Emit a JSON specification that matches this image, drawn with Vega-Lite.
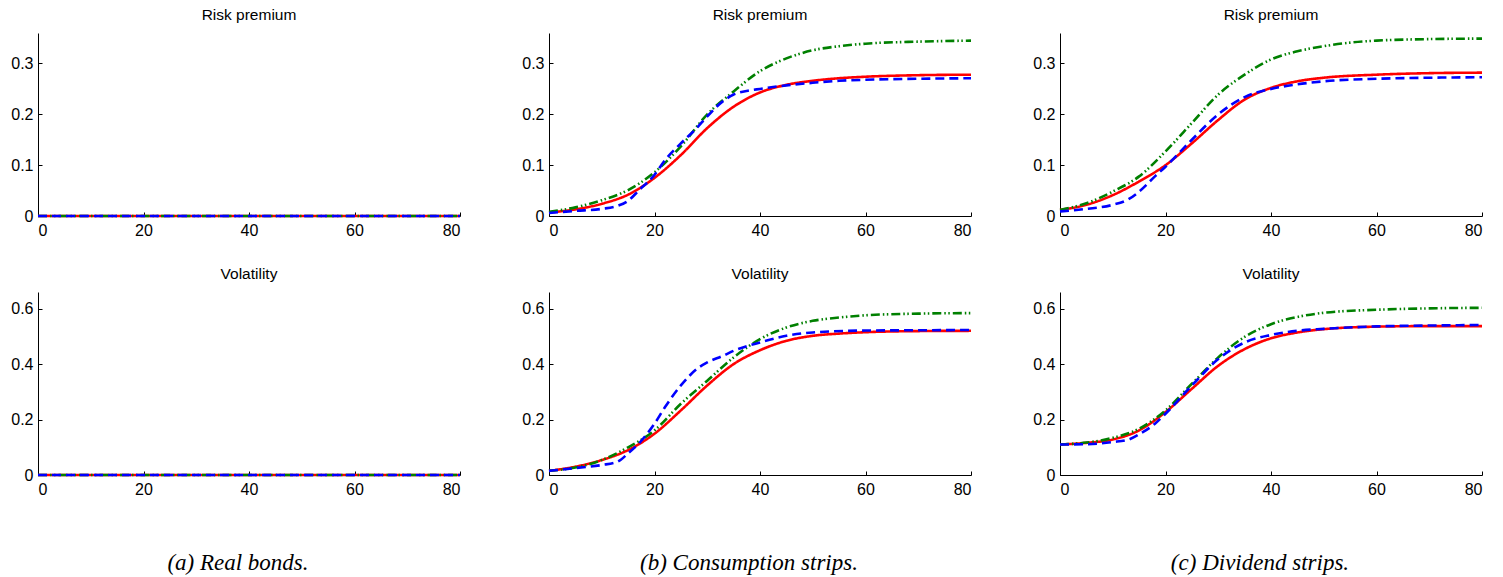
{
  "$schema": "https://vega.github.io/schema/vega-lite/v6.json",
  "background": "white",
  "padding": {"left": 10, "top": 7, "right": 10, "bottom": 5},
  "config": {
    "view": {"stroke": null},
    "axis": {"grid": false, "domainColor": "#000", "tickColor": "#000", "tickSize": -4, "labelFont": "Liberation Sans", "labelFontSize": 16, "labelColor": "#000", "title": null, "domainWidth": 1, "tickWidth": 1},
    "axisX": {"labelPadding": 10},
    "axisY": {"labelPadding": 9},
    "title": {"font": "Liberation Sans", "fontSize": 15.5, "fontWeight": "normal", "color": "#000", "offset": 10},
    "line": {"strokeWidth": 2.6, "clip": true, "interpolate": "monotone"}
  },
  "datasets": {
    "curves": [
      {"panel": "a", "measure": "risk", "series": "s1", "x": 0, "y": 0},
      {"panel": "a", "measure": "risk", "series": "s1", "x": 80, "y": 0},
      {"panel": "a", "measure": "risk", "series": "s2", "x": 0, "y": 0},
      {"panel": "a", "measure": "risk", "series": "s2", "x": 80, "y": 0},
      {"panel": "a", "measure": "risk", "series": "s3", "x": 0, "y": 0},
      {"panel": "a", "measure": "risk", "series": "s3", "x": 80, "y": 0},
      {"panel": "a", "measure": "vol", "series": "s1", "x": 0, "y": 0},
      {"panel": "a", "measure": "vol", "series": "s1", "x": 80, "y": 0},
      {"panel": "a", "measure": "vol", "series": "s2", "x": 0, "y": 0},
      {"panel": "a", "measure": "vol", "series": "s2", "x": 80, "y": 0},
      {"panel": "a", "measure": "vol", "series": "s3", "x": 0, "y": 0},
      {"panel": "a", "measure": "vol", "series": "s3", "x": 80, "y": 0},

      {"panel": "b", "measure": "risk", "series": "s1", "x": 0, "y": 0.007},
      {"panel": "b", "measure": "risk", "series": "s1", "x": 5, "y": 0.013},
      {"panel": "b", "measure": "risk", "series": "s1", "x": 10, "y": 0.024},
      {"panel": "b", "measure": "risk", "series": "s1", "x": 15, "y": 0.042},
      {"panel": "b", "measure": "risk", "series": "s1", "x": 20, "y": 0.075},
      {"panel": "b", "measure": "risk", "series": "s1", "x": 25, "y": 0.12},
      {"panel": "b", "measure": "risk", "series": "s1", "x": 30, "y": 0.173},
      {"panel": "b", "measure": "risk", "series": "s1", "x": 35, "y": 0.215},
      {"panel": "b", "measure": "risk", "series": "s1", "x": 40, "y": 0.243},
      {"panel": "b", "measure": "risk", "series": "s1", "x": 45, "y": 0.258},
      {"panel": "b", "measure": "risk", "series": "s1", "x": 50, "y": 0.266},
      {"panel": "b", "measure": "risk", "series": "s1", "x": 55, "y": 0.271},
      {"panel": "b", "measure": "risk", "series": "s1", "x": 60, "y": 0.274},
      {"panel": "b", "measure": "risk", "series": "s1", "x": 70, "y": 0.277},
      {"panel": "b", "measure": "risk", "series": "s1", "x": 80, "y": 0.278},
      {"panel": "b", "measure": "risk", "series": "s2", "x": 0, "y": 0.008},
      {"panel": "b", "measure": "risk", "series": "s2", "x": 5, "y": 0.017},
      {"panel": "b", "measure": "risk", "series": "s2", "x": 10, "y": 0.031},
      {"panel": "b", "measure": "risk", "series": "s2", "x": 15, "y": 0.051},
      {"panel": "b", "measure": "risk", "series": "s2", "x": 20, "y": 0.086},
      {"panel": "b", "measure": "risk", "series": "s2", "x": 25, "y": 0.137},
      {"panel": "b", "measure": "risk", "series": "s2", "x": 30, "y": 0.2},
      {"panel": "b", "measure": "risk", "series": "s2", "x": 35, "y": 0.245},
      {"panel": "b", "measure": "risk", "series": "s2", "x": 40, "y": 0.285},
      {"panel": "b", "measure": "risk", "series": "s2", "x": 45, "y": 0.31},
      {"panel": "b", "measure": "risk", "series": "s2", "x": 50, "y": 0.326},
      {"panel": "b", "measure": "risk", "series": "s2", "x": 55, "y": 0.334},
      {"panel": "b", "measure": "risk", "series": "s2", "x": 60, "y": 0.339},
      {"panel": "b", "measure": "risk", "series": "s2", "x": 70, "y": 0.343},
      {"panel": "b", "measure": "risk", "series": "s2", "x": 80, "y": 0.345},
      {"panel": "b", "measure": "risk", "series": "s3", "x": 0, "y": 0.006},
      {"panel": "b", "measure": "risk", "series": "s3", "x": 5, "y": 0.01},
      {"panel": "b", "measure": "risk", "series": "s3", "x": 10, "y": 0.014},
      {"panel": "b", "measure": "risk", "series": "s3", "x": 13, "y": 0.02},
      {"panel": "b", "measure": "risk", "series": "s3", "x": 15, "y": 0.03},
      {"panel": "b", "measure": "risk", "series": "s3", "x": 17, "y": 0.05},
      {"panel": "b", "measure": "risk", "series": "s3", "x": 20, "y": 0.081},
      {"panel": "b", "measure": "risk", "series": "s3", "x": 22, "y": 0.11},
      {"panel": "b", "measure": "risk", "series": "s3", "x": 25, "y": 0.143},
      {"panel": "b", "measure": "risk", "series": "s3", "x": 28, "y": 0.173},
      {"panel": "b", "measure": "risk", "series": "s3", "x": 30, "y": 0.196},
      {"panel": "b", "measure": "risk", "series": "s3", "x": 33, "y": 0.226},
      {"panel": "b", "measure": "risk", "series": "s3", "x": 35, "y": 0.239},
      {"panel": "b", "measure": "risk", "series": "s3", "x": 38, "y": 0.247},
      {"panel": "b", "measure": "risk", "series": "s3", "x": 40, "y": 0.25},
      {"panel": "b", "measure": "risk", "series": "s3", "x": 45, "y": 0.257},
      {"panel": "b", "measure": "risk", "series": "s3", "x": 50, "y": 0.262},
      {"panel": "b", "measure": "risk", "series": "s3", "x": 55, "y": 0.266},
      {"panel": "b", "measure": "risk", "series": "s3", "x": 60, "y": 0.268},
      {"panel": "b", "measure": "risk", "series": "s3", "x": 70, "y": 0.27},
      {"panel": "b", "measure": "risk", "series": "s3", "x": 80, "y": 0.271},

      {"panel": "c", "measure": "risk", "series": "s1", "x": 0, "y": 0.012},
      {"panel": "c", "measure": "risk", "series": "s1", "x": 5, "y": 0.022},
      {"panel": "c", "measure": "risk", "series": "s1", "x": 10, "y": 0.041},
      {"panel": "c", "measure": "risk", "series": "s1", "x": 15, "y": 0.068},
      {"panel": "c", "measure": "risk", "series": "s1", "x": 20, "y": 0.1},
      {"panel": "c", "measure": "risk", "series": "s1", "x": 25, "y": 0.143},
      {"panel": "c", "measure": "risk", "series": "s1", "x": 30, "y": 0.189},
      {"panel": "c", "measure": "risk", "series": "s1", "x": 35, "y": 0.229},
      {"panel": "c", "measure": "risk", "series": "s1", "x": 40, "y": 0.252},
      {"panel": "c", "measure": "risk", "series": "s1", "x": 45, "y": 0.265},
      {"panel": "c", "measure": "risk", "series": "s1", "x": 50, "y": 0.272},
      {"panel": "c", "measure": "risk", "series": "s1", "x": 60, "y": 0.278},
      {"panel": "c", "measure": "risk", "series": "s1", "x": 70, "y": 0.281},
      {"panel": "c", "measure": "risk", "series": "s1", "x": 80, "y": 0.282},
      {"panel": "c", "measure": "risk", "series": "s2", "x": 0, "y": 0.012},
      {"panel": "c", "measure": "risk", "series": "s2", "x": 5, "y": 0.025},
      {"panel": "c", "measure": "risk", "series": "s2", "x": 10, "y": 0.048},
      {"panel": "c", "measure": "risk", "series": "s2", "x": 15, "y": 0.078},
      {"panel": "c", "measure": "risk", "series": "s2", "x": 20, "y": 0.127},
      {"panel": "c", "measure": "risk", "series": "s2", "x": 25, "y": 0.183},
      {"panel": "c", "measure": "risk", "series": "s2", "x": 30, "y": 0.239},
      {"panel": "c", "measure": "risk", "series": "s2", "x": 35, "y": 0.278},
      {"panel": "c", "measure": "risk", "series": "s2", "x": 40, "y": 0.308},
      {"panel": "c", "measure": "risk", "series": "s2", "x": 45, "y": 0.324},
      {"panel": "c", "measure": "risk", "series": "s2", "x": 50, "y": 0.334},
      {"panel": "c", "measure": "risk", "series": "s2", "x": 55, "y": 0.341},
      {"panel": "c", "measure": "risk", "series": "s2", "x": 60, "y": 0.345},
      {"panel": "c", "measure": "risk", "series": "s2", "x": 70, "y": 0.348},
      {"panel": "c", "measure": "risk", "series": "s2", "x": 80, "y": 0.349},
      {"panel": "c", "measure": "risk", "series": "s3", "x": 0, "y": 0.009},
      {"panel": "c", "measure": "risk", "series": "s3", "x": 5, "y": 0.014},
      {"panel": "c", "measure": "risk", "series": "s3", "x": 10, "y": 0.022},
      {"panel": "c", "measure": "risk", "series": "s3", "x": 13, "y": 0.033},
      {"panel": "c", "measure": "risk", "series": "s3", "x": 15, "y": 0.048},
      {"panel": "c", "measure": "risk", "series": "s3", "x": 18, "y": 0.078},
      {"panel": "c", "measure": "risk", "series": "s3", "x": 20, "y": 0.097},
      {"panel": "c", "measure": "risk", "series": "s3", "x": 25, "y": 0.15},
      {"panel": "c", "measure": "risk", "series": "s3", "x": 30, "y": 0.2},
      {"panel": "c", "measure": "risk", "series": "s3", "x": 35, "y": 0.234},
      {"panel": "c", "measure": "risk", "series": "s3", "x": 40, "y": 0.25},
      {"panel": "c", "measure": "risk", "series": "s3", "x": 45, "y": 0.259},
      {"panel": "c", "measure": "risk", "series": "s3", "x": 50, "y": 0.265},
      {"panel": "c", "measure": "risk", "series": "s3", "x": 60, "y": 0.27},
      {"panel": "c", "measure": "risk", "series": "s3", "x": 70, "y": 0.272},
      {"panel": "c", "measure": "risk", "series": "s3", "x": 80, "y": 0.273},

      {"panel": "b", "measure": "vol", "series": "s1", "x": 0, "y": 0.015},
      {"panel": "b", "measure": "vol", "series": "s1", "x": 5, "y": 0.03},
      {"panel": "b", "measure": "vol", "series": "s1", "x": 10, "y": 0.054},
      {"panel": "b", "measure": "vol", "series": "s1", "x": 15, "y": 0.09},
      {"panel": "b", "measure": "vol", "series": "s1", "x": 20, "y": 0.149},
      {"panel": "b", "measure": "vol", "series": "s1", "x": 25, "y": 0.233},
      {"panel": "b", "measure": "vol", "series": "s1", "x": 30, "y": 0.323},
      {"panel": "b", "measure": "vol", "series": "s1", "x": 35, "y": 0.4},
      {"panel": "b", "measure": "vol", "series": "s1", "x": 40, "y": 0.45},
      {"panel": "b", "measure": "vol", "series": "s1", "x": 45, "y": 0.484},
      {"panel": "b", "measure": "vol", "series": "s1", "x": 50, "y": 0.502},
      {"panel": "b", "measure": "vol", "series": "s1", "x": 55, "y": 0.51},
      {"panel": "b", "measure": "vol", "series": "s1", "x": 60, "y": 0.515},
      {"panel": "b", "measure": "vol", "series": "s1", "x": 70, "y": 0.519},
      {"panel": "b", "measure": "vol", "series": "s1", "x": 80, "y": 0.52},
      {"panel": "b", "measure": "vol", "series": "s2", "x": 0, "y": 0.015},
      {"panel": "b", "measure": "vol", "series": "s2", "x": 5, "y": 0.027},
      {"panel": "b", "measure": "vol", "series": "s2", "x": 10, "y": 0.054},
      {"panel": "b", "measure": "vol", "series": "s2", "x": 15, "y": 0.1},
      {"panel": "b", "measure": "vol", "series": "s2", "x": 20, "y": 0.161},
      {"panel": "b", "measure": "vol", "series": "s2", "x": 25, "y": 0.257},
      {"panel": "b", "measure": "vol", "series": "s2", "x": 30, "y": 0.34},
      {"panel": "b", "measure": "vol", "series": "s2", "x": 35, "y": 0.424},
      {"panel": "b", "measure": "vol", "series": "s2", "x": 40, "y": 0.49},
      {"panel": "b", "measure": "vol", "series": "s2", "x": 45, "y": 0.532},
      {"panel": "b", "measure": "vol", "series": "s2", "x": 50, "y": 0.556},
      {"panel": "b", "measure": "vol", "series": "s2", "x": 55, "y": 0.568},
      {"panel": "b", "measure": "vol", "series": "s2", "x": 60, "y": 0.576},
      {"panel": "b", "measure": "vol", "series": "s2", "x": 70, "y": 0.582},
      {"panel": "b", "measure": "vol", "series": "s2", "x": 80, "y": 0.584},
      {"panel": "b", "measure": "vol", "series": "s3", "x": 0, "y": 0.015},
      {"panel": "b", "measure": "vol", "series": "s3", "x": 5, "y": 0.025},
      {"panel": "b", "measure": "vol", "series": "s3", "x": 10, "y": 0.036},
      {"panel": "b", "measure": "vol", "series": "s3", "x": 13, "y": 0.048},
      {"panel": "b", "measure": "vol", "series": "s3", "x": 15, "y": 0.078},
      {"panel": "b", "measure": "vol", "series": "s3", "x": 17, "y": 0.113},
      {"panel": "b", "measure": "vol", "series": "s3", "x": 20, "y": 0.185},
      {"panel": "b", "measure": "vol", "series": "s3", "x": 22, "y": 0.245},
      {"panel": "b", "measure": "vol", "series": "s3", "x": 25, "y": 0.323},
      {"panel": "b", "measure": "vol", "series": "s3", "x": 28, "y": 0.382},
      {"panel": "b", "measure": "vol", "series": "s3", "x": 30, "y": 0.406},
      {"panel": "b", "measure": "vol", "series": "s3", "x": 33, "y": 0.43},
      {"panel": "b", "measure": "vol", "series": "s3", "x": 35, "y": 0.448},
      {"panel": "b", "measure": "vol", "series": "s3", "x": 40, "y": 0.478},
      {"panel": "b", "measure": "vol", "series": "s3", "x": 45, "y": 0.502},
      {"panel": "b", "measure": "vol", "series": "s3", "x": 50, "y": 0.514},
      {"panel": "b", "measure": "vol", "series": "s3", "x": 60, "y": 0.521},
      {"panel": "b", "measure": "vol", "series": "s3", "x": 70, "y": 0.522},
      {"panel": "b", "measure": "vol", "series": "s3", "x": 80, "y": 0.523},

      {"panel": "c", "measure": "vol", "series": "s1", "x": 0, "y": 0.11},
      {"panel": "c", "measure": "vol", "series": "s1", "x": 5, "y": 0.116},
      {"panel": "c", "measure": "vol", "series": "s1", "x": 10, "y": 0.128},
      {"panel": "c", "measure": "vol", "series": "s1", "x": 15, "y": 0.161},
      {"panel": "c", "measure": "vol", "series": "s1", "x": 20, "y": 0.227},
      {"panel": "c", "measure": "vol", "series": "s1", "x": 25, "y": 0.311},
      {"panel": "c", "measure": "vol", "series": "s1", "x": 30, "y": 0.394},
      {"panel": "c", "measure": "vol", "series": "s1", "x": 35, "y": 0.454},
      {"panel": "c", "measure": "vol", "series": "s1", "x": 40, "y": 0.493},
      {"panel": "c", "measure": "vol", "series": "s1", "x": 45, "y": 0.514},
      {"panel": "c", "measure": "vol", "series": "s1", "x": 50, "y": 0.526},
      {"panel": "c", "measure": "vol", "series": "s1", "x": 60, "y": 0.535},
      {"panel": "c", "measure": "vol", "series": "s1", "x": 70, "y": 0.537},
      {"panel": "c", "measure": "vol", "series": "s1", "x": 80, "y": 0.537},
      {"panel": "c", "measure": "vol", "series": "s2", "x": 0, "y": 0.11},
      {"panel": "c", "measure": "vol", "series": "s2", "x": 5, "y": 0.117},
      {"panel": "c", "measure": "vol", "series": "s2", "x": 10, "y": 0.134},
      {"panel": "c", "measure": "vol", "series": "s2", "x": 15, "y": 0.167},
      {"panel": "c", "measure": "vol", "series": "s2", "x": 20, "y": 0.233},
      {"panel": "c", "measure": "vol", "series": "s2", "x": 25, "y": 0.329},
      {"panel": "c", "measure": "vol", "series": "s2", "x": 30, "y": 0.424},
      {"panel": "c", "measure": "vol", "series": "s2", "x": 35, "y": 0.498},
      {"panel": "c", "measure": "vol", "series": "s2", "x": 40, "y": 0.544},
      {"panel": "c", "measure": "vol", "series": "s2", "x": 45, "y": 0.57},
      {"panel": "c", "measure": "vol", "series": "s2", "x": 50, "y": 0.585},
      {"panel": "c", "measure": "vol", "series": "s2", "x": 60, "y": 0.596},
      {"panel": "c", "measure": "vol", "series": "s2", "x": 70, "y": 0.601},
      {"panel": "c", "measure": "vol", "series": "s2", "x": 80, "y": 0.603},
      {"panel": "c", "measure": "vol", "series": "s3", "x": 0, "y": 0.11},
      {"panel": "c", "measure": "vol", "series": "s3", "x": 5, "y": 0.111},
      {"panel": "c", "measure": "vol", "series": "s3", "x": 10, "y": 0.119},
      {"panel": "c", "measure": "vol", "series": "s3", "x": 13, "y": 0.128},
      {"panel": "c", "measure": "vol", "series": "s3", "x": 15, "y": 0.147},
      {"panel": "c", "measure": "vol", "series": "s3", "x": 18, "y": 0.185},
      {"panel": "c", "measure": "vol", "series": "s3", "x": 20, "y": 0.221},
      {"panel": "c", "measure": "vol", "series": "s3", "x": 25, "y": 0.323},
      {"panel": "c", "measure": "vol", "series": "s3", "x": 30, "y": 0.418},
      {"panel": "c", "measure": "vol", "series": "s3", "x": 35, "y": 0.478},
      {"panel": "c", "measure": "vol", "series": "s3", "x": 40, "y": 0.505},
      {"panel": "c", "measure": "vol", "series": "s3", "x": 45, "y": 0.52},
      {"panel": "c", "measure": "vol", "series": "s3", "x": 50, "y": 0.527},
      {"panel": "c", "measure": "vol", "series": "s3", "x": 60, "y": 0.536},
      {"panel": "c", "measure": "vol", "series": "s3", "x": 70, "y": 0.539},
      {"panel": "c", "measure": "vol", "series": "s3", "x": 80, "y": 0.541}
    ]
  },
  "spacing": 55,
  "hconcat": [
    {
      "title": {"text": "(a) Real bonds.", "orient": "bottom", "anchor": "middle", "font": "Liberation Serif", "fontStyle": "italic", "fontSize": 23, "offset": 55},
      "spacing": 28,
      "vconcat": [
        {
          "width": 422, "height": 183,
          "title": "Risk premium",
          "data": {"name": "curves"},
          "transform": [{"filter": "datum.panel === 'a' && datum.measure === 'risk'"}],
          "mark": {"type": "line"},
          "encoding": {
            "x": {"field": "x", "type": "quantitative", "scale": {"domain": [0, 80], "nice": false}, "axis": {"values": [0, 20, 40, 60, 80]}},
            "y": {"field": "y", "type": "quantitative", "scale": {"domain": [0, 0.36], "nice": false}, "axis": {"values": [0, 0.1, 0.2, 0.3], "format": ".1~f"}},
            "color": {"field": "series", "type": "nominal", "scale": {"domain": ["s1", "s2", "s3"], "range": ["#ff0000", "#008000", "#0000ff"]}, "legend": null},
            "strokeDash": {"field": "series", "type": "nominal", "scale": {"domain": ["s1", "s2", "s3"], "range": [[1, 0], [9, 3, 1.5, 2.5, 1.5, 3], [9, 5]]}, "legend": null}
          }
        },
        {
          "width": 422, "height": 183,
          "title": "Volatility",
          "data": {"name": "curves"},
          "transform": [{"filter": "datum.panel === 'a' && datum.measure === 'vol'"}],
          "mark": {"type": "line"},
          "encoding": {
            "x": {"field": "x", "type": "quantitative", "scale": {"domain": [0, 80], "nice": false}, "axis": {"values": [0, 20, 40, 60, 80]}},
            "y": {"field": "y", "type": "quantitative", "scale": {"domain": [0, 0.66], "nice": false}, "axis": {"values": [0, 0.2, 0.4, 0.6], "format": ".1~f"}},
            "color": {"field": "series", "type": "nominal", "scale": {"domain": ["s1", "s2", "s3"], "range": ["#ff0000", "#008000", "#0000ff"]}, "legend": null},
            "strokeDash": {"field": "series", "type": "nominal", "scale": {"domain": ["s1", "s2", "s3"], "range": [[1, 0], [9, 3, 1.5, 2.5, 1.5, 3], [9, 5]]}, "legend": null}
          }
        }
      ]
    },
    {
      "title": {"text": "(b) Consumption strips.", "orient": "bottom", "anchor": "middle", "font": "Liberation Serif", "fontStyle": "italic", "fontSize": 23, "offset": 55},
      "spacing": 28,
      "vconcat": [
        {
          "width": 422, "height": 183,
          "title": "Risk premium",
          "data": {"name": "curves"},
          "transform": [{"filter": "datum.panel === 'b' && datum.measure === 'risk'"}],
          "mark": {"type": "line"},
          "encoding": {
            "x": {"field": "x", "type": "quantitative", "scale": {"domain": [0, 80], "nice": false}, "axis": {"values": [0, 20, 40, 60, 80]}},
            "y": {"field": "y", "type": "quantitative", "scale": {"domain": [0, 0.36], "nice": false}, "axis": {"values": [0, 0.1, 0.2, 0.3], "format": ".1~f"}},
            "color": {"field": "series", "type": "nominal", "scale": {"domain": ["s1", "s2", "s3"], "range": ["#ff0000", "#008000", "#0000ff"]}, "legend": null},
            "strokeDash": {"field": "series", "type": "nominal", "scale": {"domain": ["s1", "s2", "s3"], "range": [[1, 0], [9, 3, 1.5, 2.5, 1.5, 3], [9, 5]]}, "legend": null}
          }
        },
        {
          "width": 422, "height": 183,
          "title": "Volatility",
          "data": {"name": "curves"},
          "transform": [{"filter": "datum.panel === 'b' && datum.measure === 'vol'"}],
          "mark": {"type": "line"},
          "encoding": {
            "x": {"field": "x", "type": "quantitative", "scale": {"domain": [0, 80], "nice": false}, "axis": {"values": [0, 20, 40, 60, 80]}},
            "y": {"field": "y", "type": "quantitative", "scale": {"domain": [0, 0.66], "nice": false}, "axis": {"values": [0, 0.2, 0.4, 0.6], "format": ".1~f"}},
            "color": {"field": "series", "type": "nominal", "scale": {"domain": ["s1", "s2", "s3"], "range": ["#ff0000", "#008000", "#0000ff"]}, "legend": null},
            "strokeDash": {"field": "series", "type": "nominal", "scale": {"domain": ["s1", "s2", "s3"], "range": [[1, 0], [9, 3, 1.5, 2.5, 1.5, 3], [9, 5]]}, "legend": null}
          }
        }
      ]
    },
    {
      "title": {"text": "(c) Dividend strips.", "orient": "bottom", "anchor": "middle", "font": "Liberation Serif", "fontStyle": "italic", "fontSize": 23, "offset": 55},
      "spacing": 28,
      "vconcat": [
        {
          "width": 422, "height": 183,
          "title": "Risk premium",
          "data": {"name": "curves"},
          "transform": [{"filter": "datum.panel === 'c' && datum.measure === 'risk'"}],
          "mark": {"type": "line"},
          "encoding": {
            "x": {"field": "x", "type": "quantitative", "scale": {"domain": [0, 80], "nice": false}, "axis": {"values": [0, 20, 40, 60, 80]}},
            "y": {"field": "y", "type": "quantitative", "scale": {"domain": [0, 0.36], "nice": false}, "axis": {"values": [0, 0.1, 0.2, 0.3], "format": ".1~f"}},
            "color": {"field": "series", "type": "nominal", "scale": {"domain": ["s1", "s2", "s3"], "range": ["#ff0000", "#008000", "#0000ff"]}, "legend": null},
            "strokeDash": {"field": "series", "type": "nominal", "scale": {"domain": ["s1", "s2", "s3"], "range": [[1, 0], [9, 3, 1.5, 2.5, 1.5, 3], [9, 5]]}, "legend": null}
          }
        },
        {
          "width": 422, "height": 183,
          "title": "Volatility",
          "data": {"name": "curves"},
          "transform": [{"filter": "datum.panel === 'c' && datum.measure === 'vol'"}],
          "mark": {"type": "line"},
          "encoding": {
            "x": {"field": "x", "type": "quantitative", "scale": {"domain": [0, 80], "nice": false}, "axis": {"values": [0, 20, 40, 60, 80]}},
            "y": {"field": "y", "type": "quantitative", "scale": {"domain": [0, 0.66], "nice": false}, "axis": {"values": [0, 0.2, 0.4, 0.6], "format": ".1~f"}},
            "color": {"field": "series", "type": "nominal", "scale": {"domain": ["s1", "s2", "s3"], "range": ["#ff0000", "#008000", "#0000ff"]}, "legend": null},
            "strokeDash": {"field": "series", "type": "nominal", "scale": {"domain": ["s1", "s2", "s3"], "range": [[1, 0], [9, 3, 1.5, 2.5, 1.5, 3], [9, 5]]}, "legend": null}
          }
        }
      ]
    }
  ]
}
